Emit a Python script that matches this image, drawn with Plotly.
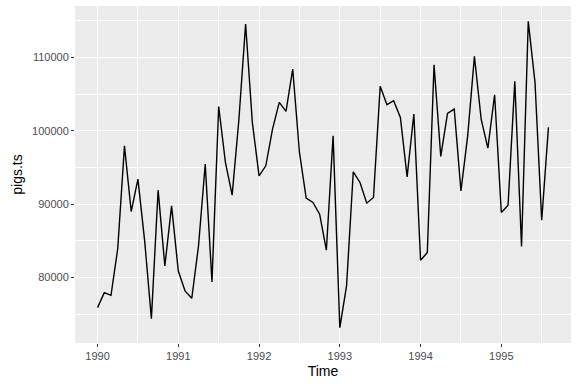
import plotly.graph_objects as go

start_year = 1990
values = [
    75900, 77950, 77580, 83950, 97940, 88990, 93400, 85000, 74400, 91900, 81580, 89760,
    80890, 78170, 77170, 84300, 95450, 79400, 103300, 95680, 91220, 101500, 114540, 101130,
    93850, 95220, 100220, 103860, 102630, 108400, 97040, 90810, 90220, 88630, 83720, 99300,
    73170, 78850, 94400, 92950, 90130, 90900, 106040, 103540, 104080, 101800, 93710, 102270,
    82350, 83400, 108990, 96500, 102360, 102950, 91800, 99300, 110130, 101580, 97630, 104900,
    88860, 89850, 106720, 84220, 114900, 106590, 87810, 100450,
]
times = [start_year + i / 12 for i in range(len(values))]
x_ticks = [1990, 1991, 1992, 1993, 1994, 1995]
y_ticks = [80000, 90000, 100000, 110000]

fig = go.Figure(go.Scatter(x=times, y=values, mode="lines",
                           line=dict(color="black", width=1.4), showlegend=False))

xspan = times[-1] - times[0]
ymin, ymax = min(values), max(values)
yspan = ymax - ymin

FONT = "Liberation Sans, Arial, sans-serif"
axis_common = dict(
    showgrid=True, gridcolor="white", gridwidth=1.1,
    zeroline=False, showline=False, automargin=False,
    ticks="outside", ticklen=3, tickwidth=1, tickcolor="#333333",
    tickfont=dict(family=FONT, size=11, color="#4D4D4D"),
)

fig.update_xaxes(
    range=[times[0] - 0.05 * xspan, times[-1] + 0.05 * xspan],
    tickvals=x_ticks, ticktext=[str(t) for t in x_ticks],
    title=dict(text="Time", font=dict(family=FONT, size=14, color="black"), standoff=4),
    minor=dict(dtick=0.5, tick0=1989.5, showgrid=True, gridcolor="white", gridwidth=0.5, ticks=""),
    **axis_common,
)
fig.update_yaxes(
    range=[ymin - 0.05 * yspan, ymax + 0.05 * yspan],
    tickvals=y_ticks, ticktext=[str(t) for t in y_ticks],
    title=dict(text="pigs.ts", font=dict(family=FONT, size=14, color="black"), standoff=6),
    minor=dict(dtick=5000, tick0=75000, showgrid=True, gridcolor="white", gridwidth=0.5, ticks=""),
    **axis_common,
)

fig.update_layout(
    width=576, height=384,
    margin=dict(l=75, r=5, t=6, b=41),
    plot_bgcolor="#EBEBEB", paper_bgcolor="white",
)
fig.write_html("out.html", config={"displayModeBar": False},
               post_script="document.body.style.margin='0px';")
